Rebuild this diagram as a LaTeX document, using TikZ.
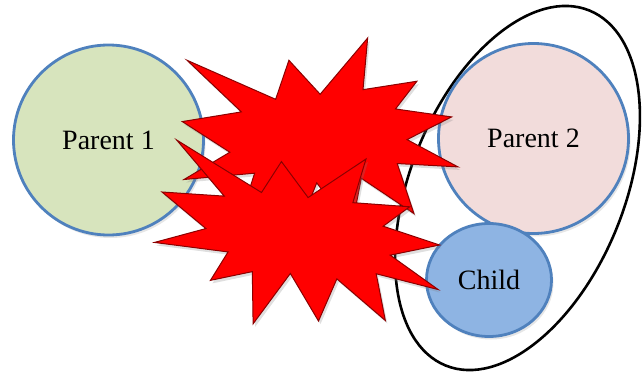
\documentclass[tikz,border=0pt]{standalone}
\usepackage{tikz}
\usepackage{fontspec}
\setmainfont{Liberation Serif}
\usetikzlibrary{shapes.geometric, shadows}

\definecolor{parentgreen}{HTML}{D7E4BD}
\definecolor{parentpink}{HTML}{F2DCDB}
\definecolor{childblue}{HTML}{8EB4E3}
\definecolor{rimblue}{HTML}{4F81BD}
\definecolor{burstred}{HTML}{FF0000}
\definecolor{burstrim}{HTML}{8B0000}

\newcommand{\burstpath}{(108,58) -- (145.22,0) -- (141.55,53.25) -- (183.8,44.57) -- (167.02,73.15) -- (210.97,81.37) -- (176.07,104.75) -- (216,132.9) -- (168.37,129.42) -- (181.45,180.95) -- (140.2,144.57) -- (132.47,197.37) -- (105.32,149.35) -- (84.85,216) -- (77.15,156.27) -- (47.62,176.17) -- (56.67,139.37) -- (1.35,145.87) -- (37.22,117.75) -- (0,86.15) -- (46.27,76.17) -- (3.7,22.95) -- (73.12,63.2) -- (83.52,22.95) -- cycle}

\begin{document}
\begin{tikzpicture}[x=1pt, y=-1pt,
    person/.style={draw=rimblue, line width=2.8pt, inner sep=0pt, font=\fontsize{28}{32}\selectfont,
        drop shadow={opacity=0.2, shadow xshift=2pt, shadow yshift=-3pt}},
    burst/.style={draw=burstrim, fill=burstred, line width=1pt,
        drop shadow={opacity=0.25, shadow xshift=2pt, shadow yshift=-3pt}}]
    \useasboundingbox (0,0) rectangle (643,375);
    \node [draw, ellipse, line width=2.6pt, minimum width=383pt, minimum height=214pt, rotate=68] (family) at (517.5,188) {};
    \node [person, circle, fill=parentgreen, minimum size=190pt] (parent1) at (108.5,140) {Parent 1\hspace{8pt}};
    \node [person, circle, fill=parentpink, minimum size=190pt] (parent2) at (533.5,138.5) {Parent 2\hspace{6pt}};
    \node [person, ellipse, fill=childblue, minimum width=125pt, minimum height=113pt] (child) at (489,280) {Child\hspace{5pt}};
    \begin{scope}[shift={(182.3,38)}, xscale=1.2765, yscale=0.97]
        \draw [burst] \burstpath;
    \end{scope}
    \begin{scope}[cm={1.3124,-0.2702,0.1558,0.8386,(175.4,119.75)}]
        \draw [burst] \burstpath;
    \end{scope}
\end{tikzpicture}
\end{document}
